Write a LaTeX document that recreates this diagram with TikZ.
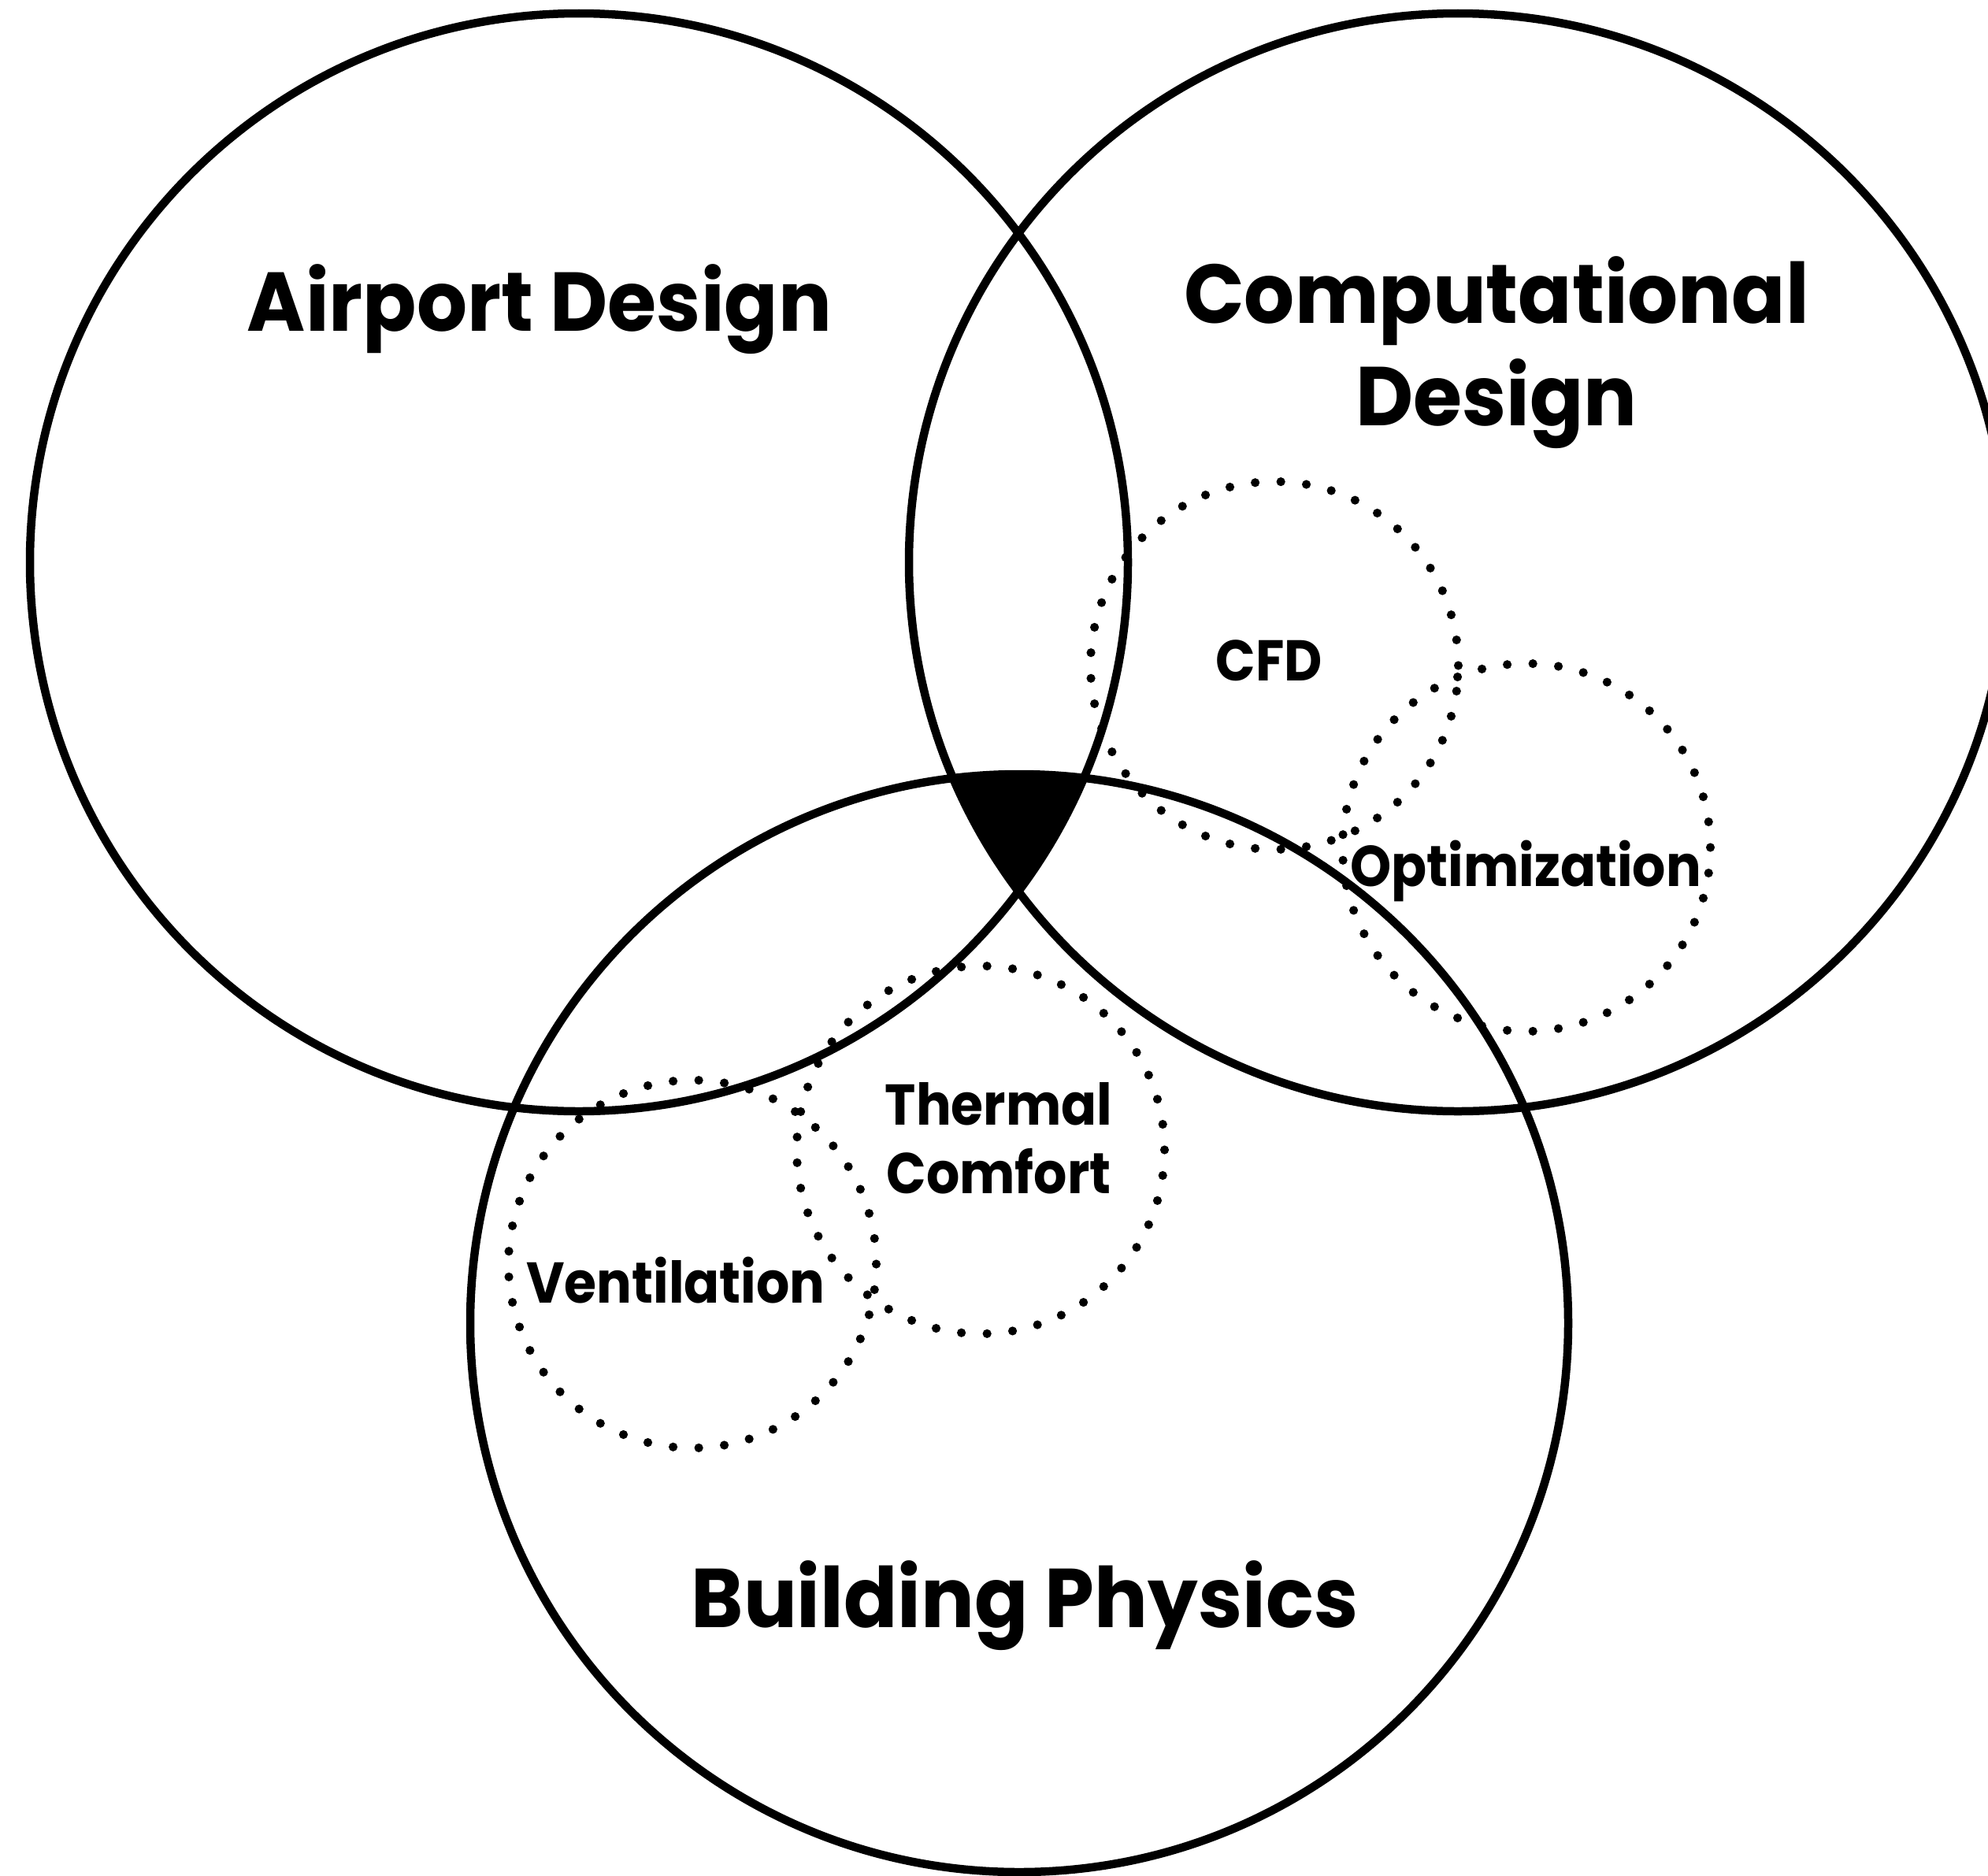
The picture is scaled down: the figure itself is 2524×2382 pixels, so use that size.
\documentclass[tikz,border=0pt]{standalone}
\usepackage{fontspec}
\setmainfont{Poppins}[FakeStretch=0.95]
\newfontfamily\labelfont{Poppins}[FakeStretch=0.91]
\begin{document}
\begin{tikzpicture}[x=1pt,y=-1pt,
  ring/.style={draw=black,line width=10.5pt},
  bigtitle/.style={font=\fontsize{106}{130}\selectfont\bfseries,inner sep=0pt,anchor=base},
  smalltitle/.style={font=\labelfont\fontsize{73}{87}\selectfont\bfseries,inner sep=0pt,anchor=base}]
  % canvas
  \fill[white] (0,0) rectangle (2524,2382);
  \useasboundingbox (0,0) rectangle (2524,2382);
  \clip (0,0) rectangle (2524,2382);

  % centres of the three main fields
  \coordinate (airport) at (735,714);
  \coordinate (comp) at (1851,714);
  \coordinate (phys) at (1294,1680);
  \def\R{697}

  % centres of the four sub-topics
  \coordinate (cfd) at (1618,845);
  \coordinate (opt) at (1938,1076);
  \coordinate (therm) at (1245,1460);
  \coordinate (vent) at (879,1605);
  \def\r{233.5}

  % common core of all three fields
  \begin{scope}
    \clip (airport) circle[radius=\R];
    \clip (comp) circle[radius=\R];
    \fill[black] (phys) circle[radius=\R];
  \end{scope}

  % main fields
  \draw[ring] (airport) circle[radius=\R];
  \draw[ring] (comp) circle[radius=\R];
  \draw[ring] (phys) circle[radius=\R];

  % dotted sub-topic rings
  \foreach \c in {cfd,opt,therm,vent}{
    \foreach \a in {0,8,...,352}{
      \fill[black] (\c) ++(\a:\r) circle[radius=5.6];
    }
  }

  % labels (two-line labels are placed by the baseline of their last line)
  \node[bigtitle] (tairport) at (685,420) {Airport Design};
  \node[bigtitle,align=center] (tcomp) at (1900,540) {Computational\\Design};
  \node[bigtitle] (tphys) at (1301,2066) {Building Physics};
  \node[smalltitle] (tcfd) at (1611,864) {CFD};
  \node[smalltitle] (topt) at (1937,1125) {Optimization};
  \node[smalltitle,align=center] (ttherm) at (1268,1515) {Thermal\\Comfort};
  \node[smalltitle] (tvent) at (858,1654) {Ventilation};
\end{tikzpicture}
\end{document}
